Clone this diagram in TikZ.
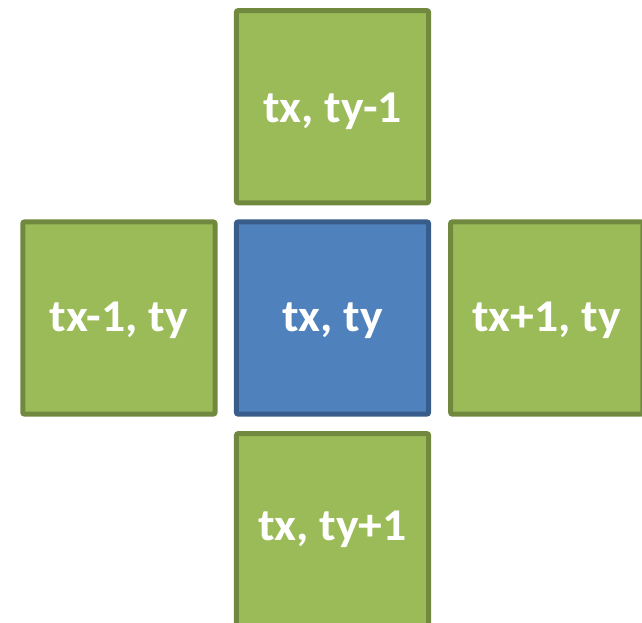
\documentclass[tikz,border=0pt]{standalone}
\usepackage{fontspec}
\setmainfont{Carlito}
\newfontfamily\cellfont{Carlito}[FakeStretch=1.05]
\definecolor{gfill}{HTML}{9BBB59}
\definecolor{gline}{HTML}{71893F}
\definecolor{bfill}{HTML}{4F81BD}
\definecolor{bline}{HTML}{385D8A}
\tikzset{
  cell/.style={minimum width=192.3pt, minimum height=192.3pt, line width=5pt, rounded corners=2pt,
    text=white, font=\cellfont\fontsize{45.5}{50}\selectfont\bfseries, inner sep=0pt,
    text height=26pt, text depth=0pt},
  gcell/.style={cell, fill=gfill, draw=gline},
  bcell/.style={cell, fill=bfill, draw=bline}
}
\begin{document}
\begin{tikzpicture}[x=1pt,y=-1pt]
\useasboundingbox (0,0) rectangle (642,622);
\clip (0,0) rectangle (642,622);
\node[bcell] (c) at (332.5,318) {tx, ty};
\node[gcell, text height=31.6pt] (t) at (332.5,106.7) {tx, ty-1};
\node[gcell] (l) at (118.9,318) {tx-1, ty};
\node[gcell] (r) at (546.7,318) {tx+1, ty};
\node[gcell, text height=21.6pt] (b) at (332.5,529.7) {tx, ty+1};
\end{tikzpicture}
\end{document}
